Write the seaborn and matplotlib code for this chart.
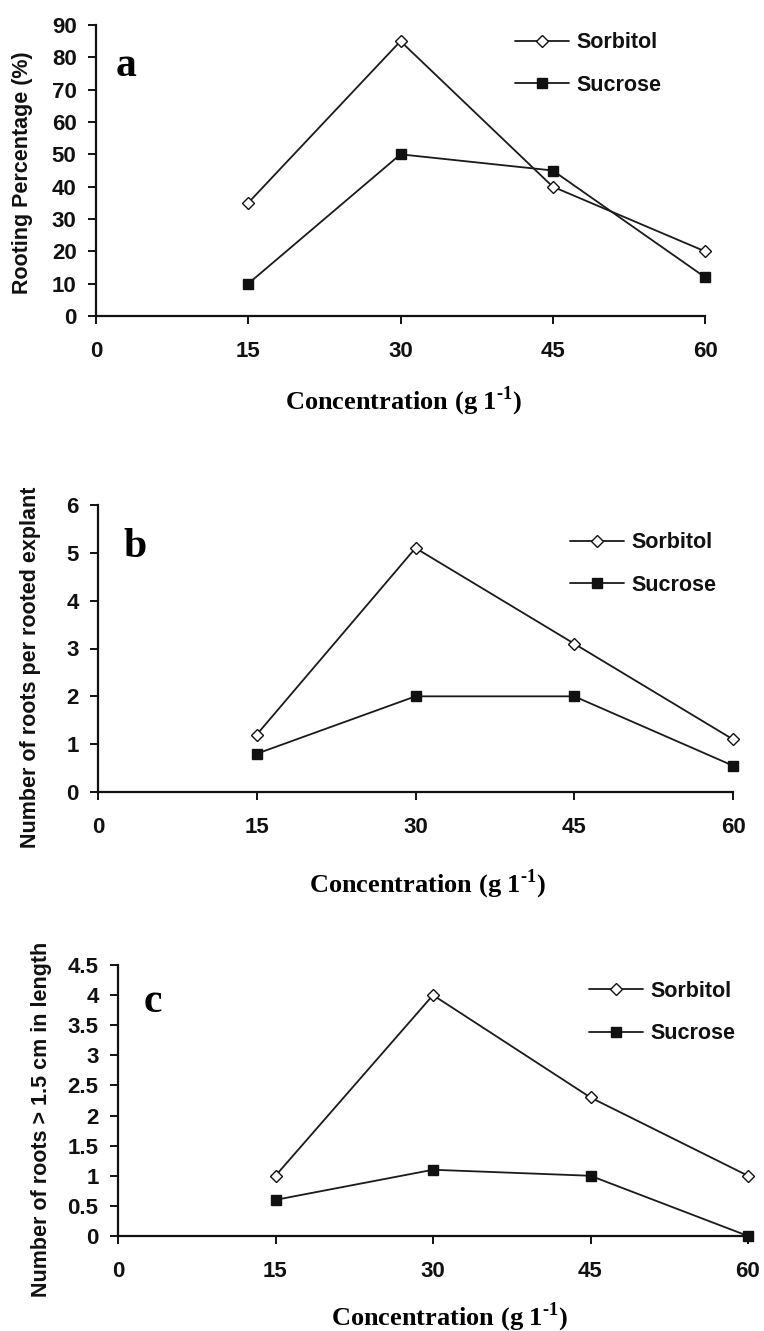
import matplotlib
matplotlib.use("Agg")
import matplotlib.pyplot as plt
import seaborn as sns
import numpy as np

# ---------------- data ----------------
concentration = [15, 30, 45, 60]
x_ticks = [0, 15, 30, 45, 60]

a_sorbitol = [35, 85, 40, 20]
a_sucrose = [10, 50, 45, 12]
a_yticks = [0, 10, 20, 30, 40, 50, 60, 70, 80, 90]
a_yticklabels = ["0", "10", "20", "30", "40", "50", "60", "70", "80", "90"]

b_sorbitol = [1.2, 5.1, 3.1, 1.1]
b_sucrose = [0.8, 2.0, 2.0, 0.55]
b_yticks = [0, 1, 2, 3, 4, 5, 6]
b_yticklabels = ["0", "1", "2", "3", "4", "5", "6"]

c_sorbitol = [1.0, 4.0, 2.3, 1.0]
c_sucrose = [0.6, 1.1, 1.0, 0.0]
c_yticks = [0, 0.5, 1, 1.5, 2, 2.5, 3, 3.5, 4, 4.5]
c_yticklabels = ["0", "0.5", "1", "1.5", "2", "2.5", "3", "3.5", "4", "4.5"]

series_names = ["Sorbitol", "Sucrose"]
panel_letters = ["a", "b", "c"]
y_titles = ["Rooting Percentage (%)",
            "Number of roots per rooted explant",
            "Number of roots > 1.5 cm in length"]
x_title = r"Concentration (g 1$^{\text{-1}}$)"

# ---------------- style ----------------
sns.set_theme(style="ticks")
plt.rcParams["font.family"] = ["Liberation Sans", "DejaVu Sans"]
plt.rcParams["mathtext.fontset"] = "custom"
plt.rcParams["mathtext.bf"] = "Liberation Serif:bold"
plt.rcParams["mathtext.rm"] = "Liberation Serif:bold"

W, H = 764, 1331
fig = plt.figure(figsize=(W / 100, H / 100), dpi=100)
fig.patch.set_facecolor("white")


def fx(px):
    return px / W


def fy(py):
    return 1 - py / H


# pixel layout: left, right, top(ymax), bottom(0)
layout = [
    dict(l=96, r=705, t=25, b=316, ymax=90, tickfs=16,
         leg=(0.688, 0.975), letter=(126, 76), xl=(403, 409), yl=(23, 173)),
    dict(l=98, r=733, t=505, b=792, ymax=6, tickfs=16,
         leg=(0.743, 0.905), letter=(135, 557), xl=(427, 892), yl=(31, 667)),
    dict(l=118, r=748, t=965, b=1236, ymax=4.5, tickfs=16,
         leg=(0.748, 0.942), letter=(153, 1012), xl=(449, 1325), yl=(42, 1119)),
]
data = [(a_sorbitol, a_sucrose, a_yticks, a_yticklabels),
        (b_sorbitol, b_sucrose, b_yticks, b_yticklabels),
        (c_sorbitol, c_sucrose, c_yticks, c_yticklabels)]

line_col = "#1a1a1a"

for i, (lay, (sorb, sucr, yt, ytl)) in enumerate(zip(layout, data)):
    ax = fig.add_axes([fx(lay["l"]), fy(lay["b"]),
                       (lay["r"] - lay["l"]) / W, (lay["b"] - lay["t"]) / H])
    ax.set_facecolor("white")
    sns.lineplot(x=concentration, y=sorb, ax=ax, color=line_col, lw=1.3,
                 marker="D", markersize=6.2, markerfacecolor="white",
                 markeredgecolor="#111111", markeredgewidth=1.0,
                 label=series_names[0], clip_on=False, zorder=3)
    sns.lineplot(x=concentration, y=sucr, ax=ax, color=line_col, lw=1.3,
                 marker="s", markersize=6.5, markerfacecolor="#111111",
                 markeredgecolor="#111111", markeredgewidth=1.0,
                 label=series_names[1], clip_on=False, zorder=3)
    ax.set_xlim(0, 60)
    ax.set_ylim(0, lay["ymax"])
    ax.set_xticks(x_ticks)
    ax.set_xticklabels([str(v) for v in x_ticks])
    ax.set_yticks(yt)
    ax.set_yticklabels(ytl)
    sns.despine(ax=ax)
    for sp in ["left", "bottom"]:
        ax.spines[sp].set_linewidth(1.6)
        ax.spines[sp].set_color("#111111")
    ax.tick_params(axis="both", direction="out", length=6, width=1.4,
                   color="#111111", labelsize=lay["tickfs"])
    ax.tick_params(axis="y", pad=8)
    ax.tick_params(axis="x", pad=12)
    for t in ax.get_xticklabels() + ax.get_yticklabels():
        t.set_fontweight("bold")
        t.set_color("#111111")

    ax.set_ylabel(y_titles[i], fontsize=15.5, fontweight="bold",
                  color="#111111", va="center")
    ax.yaxis.set_label_coords(fx(lay["yl"][0]), fy(lay["yl"][1]),
                              transform=fig.transFigure)
    ax.set_xlabel(x_title, fontsize=19, fontweight="bold",
                  family="Liberation Serif", color="#000000", va="baseline")
    ax.xaxis.set_label_coords(fx(lay["xl"][0]), fy(lay["xl"][1]),
                              transform=fig.transFigure)

    leg = ax.legend(loc="upper left", bbox_to_anchor=lay["leg"], frameon=False,
                    borderpad=0, borderaxespad=0, handlelength=2.5,
                    handletextpad=0.35, labelspacing=1.0,
                    prop={"weight": "bold", "size": 15.5})
    for txt in leg.get_texts():
        txt.set_color("#111111")

    fig.text(fx(lay["letter"][0]), fy(lay["letter"][1]), panel_letters[i],
             family="Liberation Serif", fontweight="bold", fontsize=30,
             ha="center", va="baseline", color="#000000")

fig.savefig("out.png", dpi=100, facecolor="white")
